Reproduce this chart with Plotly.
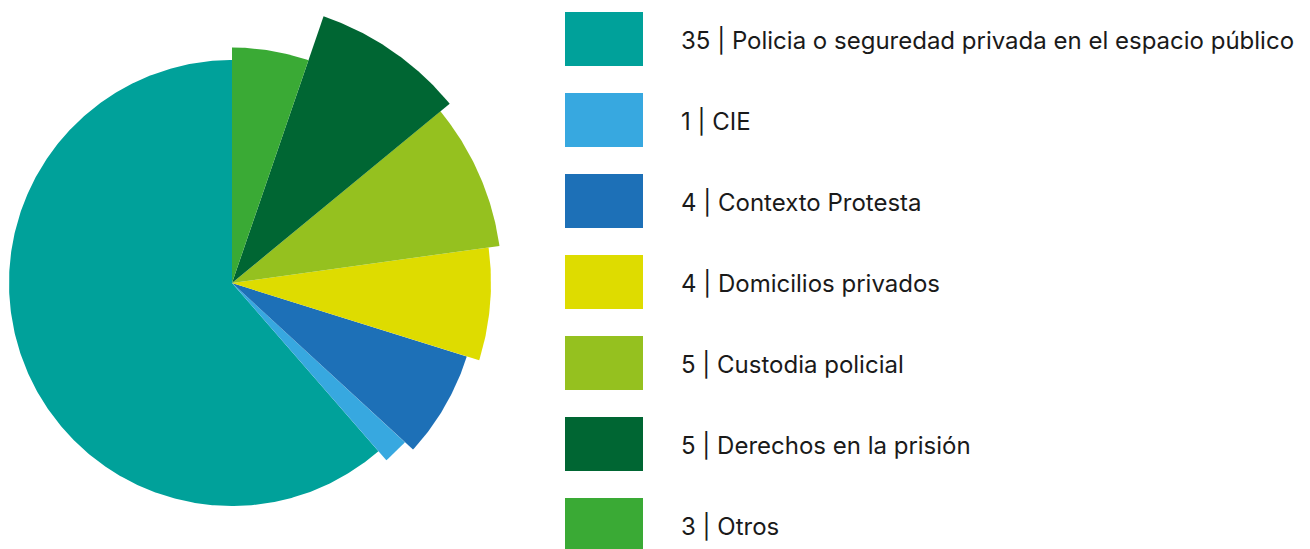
import numpy as np
import plotly.graph_objects as go

# ---- data ----
labels = ["Policia o seguredad privada en el espacio público", "CIE", "Contexto Protesta",
          "Domicilios privados", "Custodia policial", "Derechos en la prisión", "Otros"]
counts = [35, 1, 4, 4, 5, 5, 3]
radii = [223, 235, 246, 259, 270, 282, 235.5]
colors = ["#00A19A", "#37A8E0", "#1D70B7", "#DEDC00", "#95C11F", "#006633", "#3AAA35"]

OFF = 8                      # default page body margin
W, H = 1310 - OFF, 549 - OFF
cx, cy = 232 - OFF, 283 - OFF   # pie centre in figure pixels (from top-left)

total = sum(counts)
widths = [c / total * 360 for c in counts]
starts = np.cumsum([0] + widths[:-1])

fig = go.Figure()
for i, (c, rad, col) in enumerate(zip(counts, radii, colors)):
    n = max(4, int(widths[i] * 2))
    ang = np.deg2rad(90 + np.linspace(starts[i], starts[i] + widths[i], n))  # counter-clockwise from top
    xs = np.concatenate([[0], rad * np.cos(ang), [0]])
    ys = np.concatenate([[0], rad * np.sin(ang), [0]])
    fig.add_trace(go.Scatter(
        x=xs, y=ys, mode="lines", fill="toself",
        fillcolor=col, line=dict(width=0, color=col),
        hoverinfo="skip", showlegend=False,
    ))

fig.update_layout(
    width=W, height=H,
    margin=dict(l=0, r=0, t=0, b=0),
    paper_bgcolor="white", plot_bgcolor="white",
    xaxis=dict(range=[-cx, W - cx], visible=False, fixedrange=True),
    yaxis=dict(range=[-(H - cy), cy], visible=False, fixedrange=True),
)

# ---- custom legend ----
row_top0, row_step, box_h = 12 - OFF, 81, 54
box_x0, box_x1, text_x = 565 - OFF, 643 - OFF, 679 - OFF
for i, (lab, c, col) in enumerate(zip(labels, counts, colors)):
    top = row_top0 + i * row_step
    fig.add_shape(type="rect", xref="paper", yref="paper",
                  x0=box_x0 / W, x1=box_x1 / W,
                  y0=1 - (top + box_h) / H, y1=1 - top / H,
                  fillcolor=col, line=dict(width=0), layer="above")
    fig.add_annotation(xref="paper", yref="paper", x=text_x / W,
                       y=1 - (top + box_h / 2 + 1.5) / H,
                       xanchor="left", yanchor="middle", showarrow=False,
                       text=f"{c} | {lab}",
                       font=dict(family="Inter", size=24, color="#1a1a1a"))

fig.write_html("out.html")
